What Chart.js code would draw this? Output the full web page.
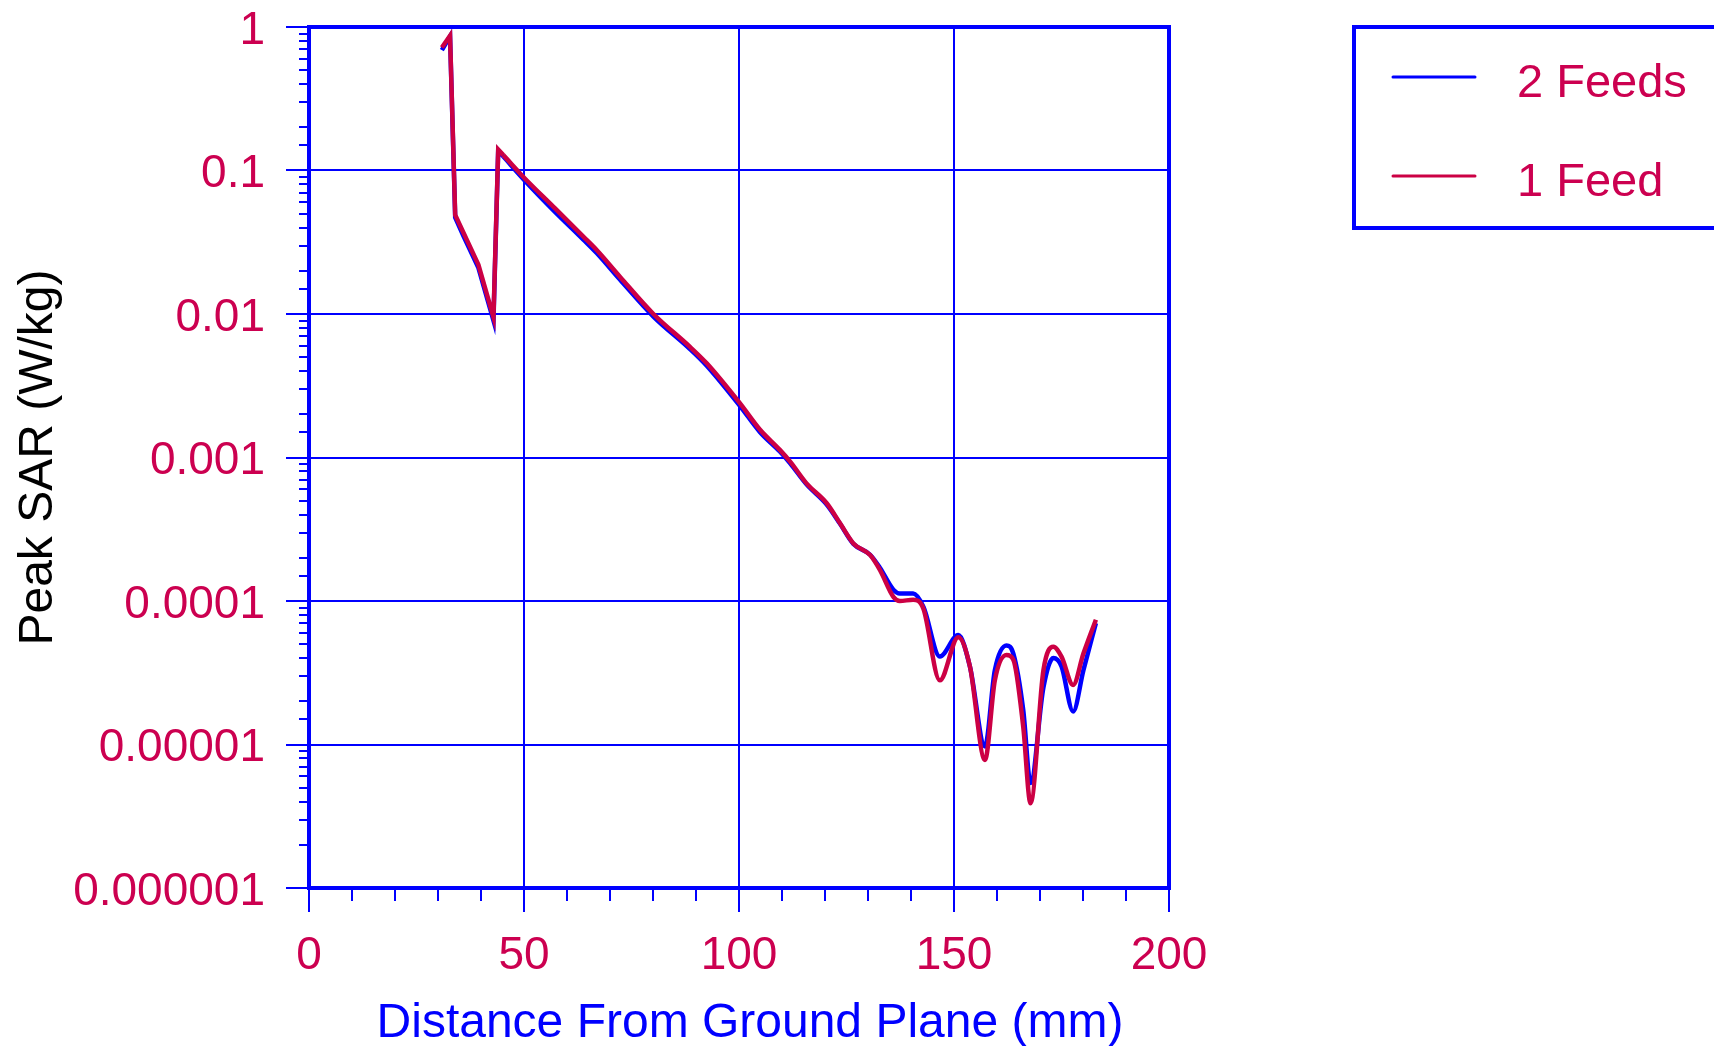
<!DOCTYPE html>
<html><head><meta charset="utf-8">
<script src="https://cdn.jsdelivr.net/npm/chart.js@4/dist/chart.umd.min.js"></script>
<style>html,body{margin:0;padding:0;background:#fff}canvas{display:block}</style>
</head><body>
<canvas id="c" width="1714" height="1046"></canvas>
<script>
// ---- data ----
const distances = [30.9, 32.8, 34.0, 35.9, 39.4, 42.9, 44.0, 45.2, 50.2, 56.8, 63.8, 66.9, 72.3, 80.1, 88.6, 92.5, 100.2, 104.9, 109.5, 111.9, 115.7, 120.4, 123.5, 126.6, 130.5, 132.8, 135.9, 137.4, 140.5, 142.9, 146.7, 151.0, 153.7, 157.2, 159.5, 162.2, 163.8, 166.1, 167.8, 170.8, 173.1, 175.0, 177.7, 180.1, 183.0];
const sar2Feeds = [0.69, 0.86, 0.047, 0.035, 0.021, 0.0090, 0.138, 0.125, 0.085, 0.053, 0.0330, 0.0266, 0.0174, 0.0096, 0.0057, 0.00436, 0.00229, 0.00150, 0.00110, 0.00091, 0.00065, 0.00047, 0.000345, 0.000250, 0.000210, 0.000170, 0.000120, 0.000113, 0.000113, 0.000091, 0.000041, 0.000058, 0.000035, 0.0000097, 0.000033, 0.000049, 0.000043, 0.0000174, 0.0000054, 0.000025, 0.000040, 0.000035, 0.000017, 0.000033, 0.000070];
const sar1Feed = [0.72, 0.87, 0.049, 0.037, 0.022, 0.0095, 0.140, 0.128, 0.088, 0.056, 0.0346, 0.0279, 0.0182, 0.0100, 0.0059, 0.00453, 0.00239, 0.00156, 0.00113, 0.000935, 0.00066, 0.00048, 0.000348, 0.000252, 0.000209, 0.000164, 0.000107, 0.000100, 0.000102, 0.000088, 0.000028, 0.000056, 0.000035, 0.0000078, 0.000028, 0.000042, 0.000039, 0.0000133, 0.0000039, 0.000033, 0.000048, 0.000041, 0.000026, 0.000043, 0.000074];
const seriesLabels = ['2 Feeds', '1 Feed'];
const xTickLabels = ['0', '50', '100', '150', '200'];
const yTickLabels = ['0.000001', '0.00001', '0.0001', '0.001', '0.01', '0.1', '1'];
const xTitle = 'Distance From Ground Plane (mm)';
const yTitle = 'Peak SAR (W/kg)';
const sharpEnd = 7; // index where the straight, jagged near-field part ends

// ---- styles ----
const BLUE = '#0000ff';
const RED = '#cc0044';
const LABEL = '#cc0050';
const FAMILY = "'Liberation Sans', Arial, Helvetica, sans-serif";

function decadeIndex(v) {
  const l = Math.log10(v);
  const r = Math.round(l);
  return Math.abs(l - r) < 1e-6 ? r + 6 : -1;
}
function toXY(ys, a, b) { return distances.slice(a, b).map((d, i) => ({x: d, y: ys[a + i]})); }

const furniture = {
  id: 'furniture',
  beforeDatasetsDraw(chart) {
    const {ctx, chartArea: a, scales: {x, y}} = chart;
    ctx.save();
    ctx.strokeStyle = BLUE;
    ctx.lineWidth = 2;
    y.ticks.forEach(t => {
      const p = Math.round(y.getPixelForValue(t.value));
      const major = decadeIndex(t.value) >= 0;
      ctx.beginPath();
      ctx.moveTo(a.left - (major ? 23 : 10), p);
      ctx.lineTo(a.left, p);
      ctx.stroke();
    });
    x.ticks.forEach(t => {
      const p = Math.round(x.getPixelForValue(t.value));
      const major = t.value % 50 === 0;
      ctx.beginPath();
      ctx.moveTo(p, a.bottom);
      ctx.lineTo(p, a.bottom + (major ? 24 : 13));
      ctx.stroke();
    });
    ctx.lineWidth = 4;
    ctx.strokeRect(a.left, a.top, a.right - a.left, a.bottom - a.top);
    ctx.restore();
  },
  afterDraw(chart) {
    const {ctx} = chart;
    ctx.save();
    // x-axis title (placed like the reference, slightly right of the plot centre)
    ctx.font = '48px ' + FAMILY;
    ctx.fillStyle = BLUE;
    ctx.textAlign = 'center';
    ctx.textBaseline = 'middle';
    ctx.fillText(xTitle, 750, 1024);
    // legend
    ctx.strokeStyle = BLUE;
    ctx.lineWidth = 4;
    ctx.strokeRect(1354, 27, 420, 201);
    ctx.font = '47px ' + FAMILY;
    ctx.textAlign = 'left';
    chart.data.datasets.filter(ds => ds.inLegend).forEach((ds, i) => {
      const yy = 77 + i * 99;
      ctx.strokeStyle = ds.borderColor;
      ctx.lineWidth = 3;
      ctx.lineCap = 'round';
      ctx.beginPath();
      ctx.moveTo(1393, yy);
      ctx.lineTo(1475, yy);
      ctx.stroke();
      ctx.fillStyle = LABEL;
      ctx.fillText(ds.label, 1517, yy + 7);
    });
    ctx.restore();
  }
};

const common = {borderWidth: 4.5, pointRadius: 0};
new Chart(document.getElementById('c'), {
  type: 'line',
  data: {
    datasets: [
      {...common, label: seriesLabels[0], inLegend: true, data: toXY(sar2Feeds, 0, sharpEnd + 1), borderColor: BLUE, tension: 0, order: 3},
      {...common, label: seriesLabels[0], data: toXY(sar2Feeds, sharpEnd, distances.length), borderColor: BLUE, cubicInterpolationMode: 'monotone', order: 2},
      {...common, label: seriesLabels[1], inLegend: true, data: toXY(sar1Feed, 0, sharpEnd + 1), borderColor: RED, tension: 0, order: 1},
      {...common, label: seriesLabels[1], data: toXY(sar1Feed, sharpEnd, distances.length), borderColor: RED, cubicInterpolationMode: 'monotone', order: 0}
    ]
  },
  options: {
    responsive: false,
    animation: false,
    devicePixelRatio: 1,
    layout: {padding: {left: 0, top: 27, right: 545, bottom: 0}},
    plugins: {legend: {display: false}, tooltip: {enabled: false}},
    scales: {
      x: {
        type: 'linear', min: 0, max: 200,
        afterFit(s) { s.height = 158; s.paddingLeft = 0; s.paddingRight = 0; s.paddingTop = 0; s.paddingBottom = 0; },
        border: {display: false},
        grid: {
          drawTicks: false, lineWidth: 2,
          color: c => (c.tick && c.tick.value % 50 === 0) ? BLUE : 'rgba(0,0,0,0)'
        },
        ticks: {
          stepSize: 10, autoSkip: false, maxRotation: 0, padding: 41,
          color: LABEL, font: {family: FAMILY, size: 46},
          callback: v => (v % 50 === 0 ? xTickLabels[v / 50] : '')
        },
        title: {display: false}
      },
      y: {
        type: 'logarithmic', min: 1e-6, max: 1,
        afterFit(s) { s.width = 309; s.paddingLeft = 0; s.paddingRight = 0; s.paddingTop = 0; s.paddingBottom = 0; },
        border: {display: false},
        grid: {
          drawTicks: false, lineWidth: 2,
          color: c => (c.tick && decadeIndex(c.tick.value) >= 0) ? BLUE : 'rgba(0,0,0,0)'
        },
        ticks: {
          autoSkip: false, padding: 44, labelOffset: 4,
          color: LABEL, font: {family: FAMILY, size: 46},
          callback: v => { const k = decadeIndex(v); return k >= 0 ? yTickLabels[k] : ''; }
        },
        title: {display: true, text: yTitle, color: '#000000', font: {family: FAMILY, size: 48, lineHeight: 1.2}, padding: {top: 10, bottom: 0}}
      }
    }
  },
  plugins: [furniture]
});
</script>
</body></html>
